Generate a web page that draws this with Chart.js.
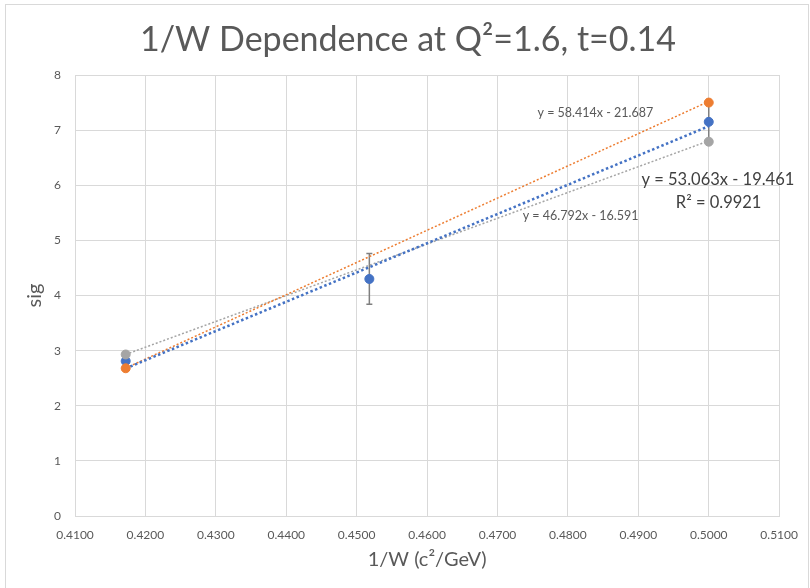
<!DOCTYPE html>
<html>
<head>
<meta charset="utf-8">
<script src="https://cdn.jsdelivr.net/npm/chart.js@4.4.1/dist/chart.umd.min.js"></script>
<style>
  html, body { margin: 0; padding: 0; background: #fff; }
  #wrap { width: 810px; height: 588px; position: relative; }
</style>
</head>
<body>
<div id="wrap"><canvas id="chart"></canvas></div>
<script>
// values
const invW = [0.4172, 0.4518, 0.5000];
const sigBlue = [2.81, 4.30, 7.15];
const errBlue = [0.12, 0.46, 0.35];
const invW2 = [0.4172, 0.5000];
const sigOrange = [2.68, 7.50];
const sigGray = [2.93, 6.79];

// trendline coefficients shown on the chart
const fitBlue = [53.063, -19.461];
const fitOrange = [58.414, -21.687];
const fitGray = [46.792, -16.591];

const xTicks = [0.41, 0.42, 0.43, 0.44, 0.45, 0.46, 0.47, 0.48, 0.49, 0.50, 0.51];
const yTicks = [0, 1, 2, 3, 4, 5, 6, 7, 8];

const BLUE = '#4472C4', ORANGE = '#ED7D31', GRAY = '#A5A5A5';
const FONT = 'Lato, "Open Sans", sans-serif';
const TITLE = '1/W Dependence at Q\u00B2=1.6, t=0.14';

function pts(xs, ys) {
  return xs.map((x, i) => ({ x: x, y: ys[i] }));
}
function fitLine(xs, fit) {
  const a = xs[0], b = xs[xs.length - 1];
  return [{ x: a, y: fit[0] * a + fit[1] }, { x: b, y: fit[0] * b + fit[1] }];
}

// error bars on the blue series
const errorBars = {
  id: 'errorBars',
  beforeDatasetsDraw(chart) {
    const { ctx, scales: { x, y } } = chart;
    ctx.save();
    ctx.strokeStyle = '#7F7F7F';
    ctx.lineWidth = 1.5;
    invW.forEach((v, i) => {
      const px = x.getPixelForValue(v);
      const top = y.getPixelForValue(sigBlue[i] + errBlue[i]);
      const bot = y.getPixelForValue(sigBlue[i] - errBlue[i]);
      ctx.beginPath();
      ctx.moveTo(px, top); ctx.lineTo(px, bot);
      ctx.moveTo(px - 3, top); ctx.lineTo(px + 3, top);
      ctx.moveTo(px - 3, bot); ctx.lineTo(px + 3, bot);
      ctx.stroke();
    });
    ctx.restore();
  }
};

// equation labels, title + outer frame
const labels = [
  { text: 'y = 58.414x - 21.687', x: 0.4839, y: 7.31, size: 12.5, color: '#595959' },
  { text: 'y = 46.792x - 16.591', x: 0.4818, y: 5.44, size: 12.5, color: '#595959' },
  { text: 'y = 53.063x - 19.461', x: 0.5013, y: 6.1, size: 16.5, color: '#404040' },
  { text: 'R\u00B2 = 0.9921', x: 0.5014, y: 5.68, size: 16.5, color: '#404040' }
];
const extras = {
  id: 'extras',
  beforeDraw(chart) {
    const ctx = chart.ctx;
    ctx.save();
    ctx.strokeStyle = '#D9D9D9';
    ctx.lineWidth = 1;
    ctx.strokeRect(5.5, 4.5, 803, 590);
    ctx.font = '34px ' + FONT;
    ctx.fillStyle = '#595959';
    ctx.textAlign = 'center';
    ctx.textBaseline = 'middle';
    ctx.fillText(TITLE, 408, 40);
    ctx.restore();
  },
  afterDatasetsDraw(chart) {
    const { ctx, scales: { x, y } } = chart;
    ctx.save();
    ctx.textAlign = 'center';
    ctx.textBaseline = 'middle';
    labels.forEach(l => {
      ctx.font = l.size + 'px ' + FONT;
      ctx.fillStyle = l.color;
      ctx.fillText(l.text, x.getPixelForValue(l.x), y.getPixelForValue(l.y));
    });
    ctx.restore();
  }
};

new Chart(document.getElementById('chart'), {
  type: 'scatter',
  data: {
    datasets: [
      { label: 'fitBlue', type: 'line', data: fitLine(invW, fitBlue), borderColor: BLUE,
        borderWidth: 2.5, borderDash: [2.5, 2.5], pointRadius: 0, order: 5 },
      { label: 'fitOrange', type: 'line', data: fitLine(invW2, fitOrange), borderColor: ORANGE,
        borderWidth: 1.5, borderDash: [2, 2], pointRadius: 0, order: 6 },
      { label: 'fitGray', type: 'line', data: fitLine(invW2, fitGray), borderColor: GRAY,
        borderWidth: 1.5, borderDash: [2, 2], pointRadius: 0, order: 7 },
      { label: 'orange', data: pts(invW2, sigOrange), backgroundColor: ORANGE, borderColor: ORANGE,
        pointRadius: 4.5, order: 0 },
      { label: 'gray', data: pts(invW2, sigGray), backgroundColor: GRAY, borderColor: GRAY,
        pointRadius: 4.5, order: 1 },
      { label: 'blue', data: pts(invW, sigBlue), backgroundColor: BLUE, borderColor: BLUE,
        pointRadius: 4.5, order: 2 }
    ]
  },
  options: {
    responsive: true,
    maintainAspectRatio: false,
    animation: false,
    events: [],
    layout: { padding: { left: 10, right: 30, top: 75, bottom: 0 } },
    plugins: {
      legend: { display: false },
      tooltip: { enabled: false },
      title: { display: false }
    },
    scales: {
      x: {
        type: 'linear',
        min: 0.41, max: 0.51,
        afterBuildTicks: s => { s.ticks = xTicks.map(v => ({ value: v })); },
        afterFit: s => { s.height = 72; },
        grid: { color: '#D9D9D9', drawTicks: false },
        border: { color: '#D9D9D9' },
        ticks: { color: '#595959', font: { family: FONT, size: 12 }, padding: 12,
          maxRotation: 0, callback: v => v.toFixed(4) },
        title: { display: true, text: '1/W (c\u00B2/GeV)', color: '#595959',
          font: { family: FONT, size: 20 }, padding: { top: 0, bottom: 16 } }
      },
      y: {
        min: 0, max: 8,
        afterBuildTicks: s => { s.ticks = yTicks.map(v => ({ value: v })); },
        afterFit: s => { s.width = 65; },
        grid: { color: '#D9D9D9', drawTicks: false },
        border: { display: false },
        ticks: { color: '#595959', font: { family: FONT, size: 12 }, padding: 14 },
        title: { display: true, text: 'sig', color: '#595959',
          font: { family: FONT, size: 20 }, padding: { top: 13, bottom: 0 } }
      }
    }
  },
  plugins: [errorBars, extras]
});
</script>
</body>
</html>
